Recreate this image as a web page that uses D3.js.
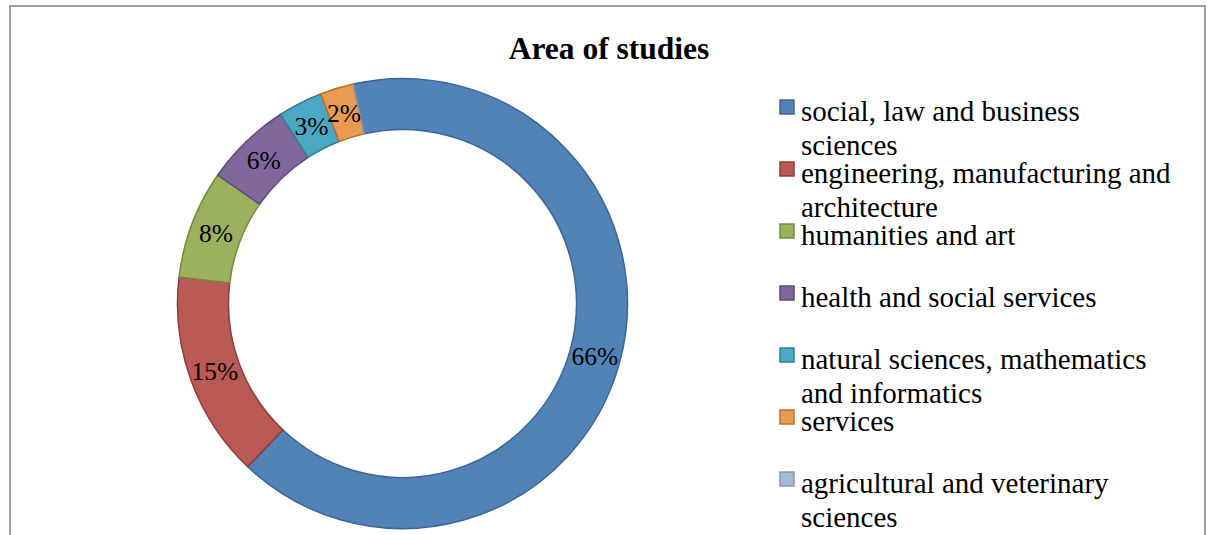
<!DOCTYPE html>
<html>
<head>
<meta charset="utf-8">
<script src="https://cdn.jsdelivr.net/npm/d3@7"></script>
<style>
  html, body { margin: 0; padding: 0; background: #fff; }
  svg { display: block; }
  text { font-family: "Liberation Serif", "Times New Roman", serif; }
</style>
</head>
<body>
<svg id="chart" width="1211" height="535"></svg>
<script>
// ---- data ----
const title = "Area of studies";
const categories = [
  "social, law and business sciences",
  "engineering, manufacturing and architecture",
  "humanities and art",
  "health and social services",
  "natural sciences, mathematics and informatics",
  "services",
  "agricultural and veterinary sciences"
];
const values = [65.6, 14.8, 7.8, 6.2, 3.2, 2.4, 0];

// ---- styles ----
const fills   = ["#5283B7", "#B95A55", "#9BB15D", "#80689D", "#4BA8C2", "#E99B52", "#A7BAD9"];
const strokes = ["#3C6594", "#8E3D39", "#728A3E", "#5E4A7A", "#357F94", "#B86F2E", "#8797B5"];

const svg = d3.select("#chart");

// frame
svg.append("rect")
  .attr("x", 10).attr("y", 6)
  .attr("width", 1195).attr("height", 560)
  .attr("fill", "#fff")
  .attr("stroke", "#9d9d9d").attr("stroke-width", 2);

// title
svg.append("text")
  .attr("x", 609).attr("y", 59)
  .attr("text-anchor", "middle")
  .attr("font-size", 31.5).attr("font-weight", "bold")
  .attr("fill", "#000")
  .text(title);

// donut
const cx = 402.5, cy = 303.5, rOuter = 225, rInner = 174;
const rot = -12.7 * Math.PI / 180;
const pie = d3.pie().sort(null).value(d => d)
  .startAngle(rot).endAngle(rot + 2 * Math.PI);
const arcs = pie(values);
const arc = d3.arc().innerRadius(rInner).outerRadius(rOuter);

const g = svg.append("g").attr("transform", `translate(${cx},${cy})`);
g.selectAll("path.slice")
  .data(arcs)
  .join("path")
  .attr("class", "slice")
  .attr("d", arc)
  .attr("fill", (d, i) => fills[i])
  .attr("stroke", (d, i) => strokes[i])
  .attr("stroke-width", 1.5)
  .attr("stroke-linejoin", "round");

const total = d3.sum(values);
g.selectAll("text.lbl")
  .data(arcs.filter(d => d.value > 0))
  .join("text")
  .attr("class", "lbl")
  .attr("transform", d => `translate(${arc.centroid(d)})`)
  .attr("text-anchor", "middle")
  .attr("dy", "0.35em")
  .attr("font-size", 25.5)
  .attr("fill", "#000")
  .text(d => Math.round(d.value / total * 100) + "%");

// legend
const legX = 780, legTextX = 801, legY0 = 111, itemStep = 62, lineStep = 34, maxW = 376;
const legend = svg.append("g");
categories.forEach((c, i) => {
  const y = legY0 + i * itemStep;
  legend.append("rect")
    .attr("x", legX).attr("y", y - 11)
    .attr("width", 14).attr("height", 14)
    .attr("fill", fills[i]).attr("stroke", strokes[i]).attr("stroke-width", 1.5);
  const t = legend.append("text")
    .attr("x", legTextX).attr("y", y)
    .attr("font-size", 29).attr("fill", "#000");
  const words = c.split(" ");
  let line = [], lineNo = 0;
  let tspan = t.append("tspan").attr("x", legTextX).attr("dy", "0.35em");
  words.forEach(w => {
    line.push(w);
    tspan.text(line.join(" "));
    if (tspan.node().getComputedTextLength() > maxW && line.length > 1) {
      line.pop();
      tspan.text(line.join(" "));
      line = [w];
      lineNo++;
      tspan = t.append("tspan").attr("x", legTextX).attr("y", y + lineNo * lineStep)
        .attr("dy", "0.35em").text(w);
    }
  });
});
</script>
</body>
</html>
